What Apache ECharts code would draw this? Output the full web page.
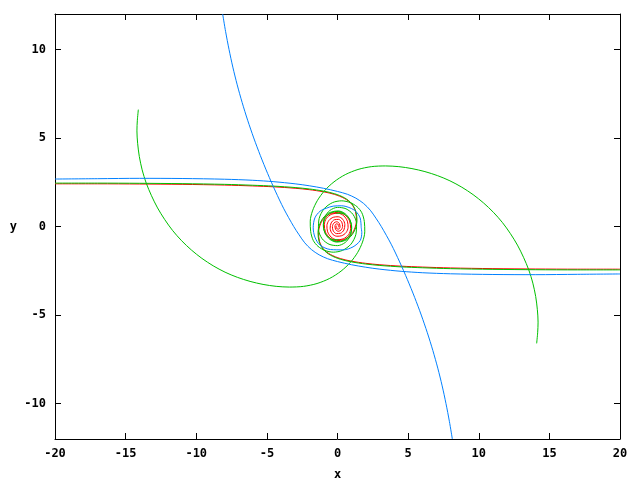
<!DOCTYPE html>
<html>
<head>
<meta charset="utf-8">
<script src="https://cdn.jsdelivr.net/npm/echarts@6/dist/echarts.min.js"></script>
<style>html,body{margin:0;padding:0;background:#fff}#c{width:640px;height:480px}</style>
</head>
<body>
<div id="c"></div>
<script>
var xTicks = [-20, -15, -10, -5, 0, 5, 10, 15, 20];
var yTicks = [-10, -5, 0, 5, 10];

var redLeft = [[-20,2.41],[-17,2.41],[-14,2.4],[-11,2.38],[-8,2.34],[-6,2.29],[-4.5,2.24],[-3,2.16],[-2,2.08],[-1,1.96],[-0.2,1.81],[0.5,1.58],[1.0,1.27],[1.28,0.83],[1.34,0.33],[1.2,-0.15],[0.9,-0.52],[0.45,-0.74],[-0.05,-0.8],[-0.52,-0.66],[-0.85,-0.32],[-0.93,0.1],[-0.78,0.47],[-0.4,0.7],[0.05,0.75],[0.45,0.6],[0.7,0.3],[0.75,-0.05],[0.6,-0.35],[0.3,-0.52],[-0.05,-0.55],[-0.38,-0.4],[-0.52,-0.1],[-0.45,0.2],[-0.22,0.38],[0.08,0.4],[0.3,0.25],[0.36,0],[0.25,-0.2],[0.05,-0.27],[-0.13,-0.17],[-0.18,0.03],[-0.08,0.15],[0.05,0.12],[0.1,0.02],[0.05,-0.05]];
var redRight = [[20,-2.41],[17,-2.41],[14,-2.4],[11,-2.38],[8,-2.34],[6,-2.29],[4.5,-2.24],[3,-2.16],[2,-2.08],[1,-1.96],[0.2,-1.81],[-0.5,-1.58],[-1.0,-1.27],[-1.28,-0.83],[-1.34,-0.33],[-1.2,0.15],[-0.9,0.52],[-0.45,0.74],[0.05,0.8],[0.52,0.66],[0.85,0.32],[0.93,-0.1],[0.78,-0.47],[0.4,-0.7],[-0.05,-0.75],[-0.45,-0.6],[-0.7,-0.3],[-0.75,0.05],[-0.6,0.35],[-0.3,0.52],[0.05,0.55],[0.38,0.4],[0.52,0.1],[0.45,-0.2],[0.22,-0.38],[-0.08,-0.4],[-0.3,-0.25],[-0.36,0],[-0.25,0.2],[-0.05,0.27],[0.13,0.17],[0.18,-0.03],[0.08,-0.15],[-0.05,-0.12],[-0.1,-0.02],[-0.05,0.05]];

var greenTailLeft = [[-20,2.45],[-17,2.45],[-14,2.44],[-11,2.42],[-8,2.38],[-6,2.33],[-4.5,2.28],[-3,2.2],[-2,2.12],[-1,2.0],[-0.2,1.85],[0.5,1.62],[1.0,1.3],[1.3,0.85],[1.38,0.35],[1.25,-0.15],[0.95,-0.55],[0.5,-0.8],[-0.05,-0.88],[-0.55,-0.72],[-0.9,-0.35],[-1.0,0.1],[-0.85,0.5],[-0.45,0.78],[0.05,0.85],[0.5,0.72]];
var greenTailRight = [[20,-2.45],[17,-2.45],[14,-2.44],[11,-2.42],[8,-2.38],[6,-2.33],[4.5,-2.28],[3,-2.2],[2,-2.12],[1,-2.0],[0.2,-1.85],[-0.5,-1.62],[-1.0,-1.3],[-1.3,-0.85],[-1.38,-0.35],[-1.25,0.15],[-0.95,0.55],[-0.5,0.8],[0.05,0.88],[0.55,0.72],[0.9,0.35],[1.0,-0.1],[0.85,-0.5],[0.45,-0.78],[-0.05,-0.85],[-0.5,-0.72]];

var greenArmRight = [[14.1,-6.6],[14.17,-6.0],[14.2,-5.4],[14.15,-4.7],[14.03,-3.95],[13.83,-3.2],[13.54,-2.45],[13.17,-1.74],[12.74,-1.05],[12.24,-0.4],[11.67,0.23],[11.04,0.8],[10.34,1.33],[9.6,1.8],[8.8,2.22],[7.96,2.58],[7.09,2.87],[6.19,3.1],[5.27,3.27],[4.34,3.38],[3.4,3.42],[2.4,3.38],[1.45,3.22],[0.55,2.93],[-0.25,2.52],[-0.92,2.02],[-1.43,1.46],[-1.77,0.88],[-1.93,0.3],[-1.9,-0.28],[-1.72,-0.78],[-1.38,-1.12],[-0.9,-1.35],[-0.3,-1.45],[0.35,-1.35],[0.95,-1.0],[1.3,-0.45],[1.35,0.15],[1.1,0.68],[0.6,1.0],[0.0,1.08],[-0.55,0.9],[-0.92,0.5],[-1.0,0.0],[-0.82,-0.45],[-0.4,-0.72],[0.1,-0.75]];
var greenArmLeft = [[-14.1,6.6],[-14.17,6.0],[-14.2,5.4],[-14.15,4.7],[-14.03,3.95],[-13.83,3.2],[-13.54,2.45],[-13.17,1.74],[-12.74,1.05],[-12.24,0.4],[-11.67,-0.23],[-11.04,-0.8],[-10.34,-1.33],[-9.6,-1.8],[-8.8,-2.22],[-7.96,-2.58],[-7.09,-2.87],[-6.19,-3.1],[-5.27,-3.27],[-4.34,-3.38],[-3.4,-3.42],[-2.4,-3.38],[-1.45,-3.22],[-0.55,-2.93],[0.25,-2.52],[0.92,-2.02],[1.43,-1.46],[1.77,-0.88],[1.93,-0.3],[1.9,0.28],[1.72,0.78],[1.38,1.12],[0.9,1.35],[0.3,1.45],[-0.35,1.35],[-0.95,1.0],[-1.3,0.45],[-1.35,-0.15],[-1.1,-0.68],[-0.6,-1.0],[0.0,-1.08],[0.55,-0.9],[0.92,-0.5],[1.0,0.0],[0.82,0.45],[0.4,0.72],[-0.1,0.75]];

var blueLeft = [[-20,2.68],[-17,2.7],[-14,2.72],[-11,2.71],[-8,2.67],[-6,2.61],[-4.5,2.53],[-3,2.41],[-2,2.3],[-1,2.16],[0,1.98],[0.7,1.82],[1.3,1.6],[1.85,1.3],[2.32,0.92],[2.72,0.47],[3.1,0],[3.8,-1],[4.4,-2],[4.95,-3],[5.46,-4],[5.93,-5],[6.36,-6],[6.75,-7],[7.1,-8],[7.41,-9],[7.68,-10],[7.92,-11],[8.13,-12]];
var blueRight = [[20,-2.68],[17,-2.7],[14,-2.72],[11,-2.71],[8,-2.67],[6,-2.61],[4.5,-2.53],[3,-2.41],[2,-2.3],[1,-2.16],[0,-1.98],[-0.7,-1.82],[-1.3,-1.6],[-1.85,-1.3],[-2.32,-0.92],[-2.72,-0.47],[-3.1,0],[-3.8,1],[-4.4,2],[-4.95,3],[-5.46,4],[-5.93,5],[-6.36,6],[-6.75,7],[-7.1,8],[-7.41,9],[-7.68,10],[-7.92,11],[-8.13,12]];
var blueLoop = [[1.68,-0.07],[1.6,0.49],[1.3,0.85],[0.89,1.05],[0.3,1.17],[-0.3,1.15],[-0.8,1.03],[-1.24,0.86],[-1.6,0.49],[-1.72,-0.07],[-1.6,-0.6],[-1.24,-1.05],[-0.5,-1.3],[0.4,-1.32],[1.1,-1.15],[1.6,-0.8],[1.72,-0.35],[1.68,-0.07]];

var RED = '#ff0000', GREEN = '#00c000', BLUE = '#0080ff';
var FONT = 'DejaVu Sans Mono';

function line(data, color) {
  return {
    type: 'line', data: data, showSymbol: false, symbol: 'none', smooth: 0.3,
    lineStyle: { color: color, width: 1 }, itemStyle: { color: color },
    silent: true, animation: false, clip: true, xAxisIndex: 0, yAxisIndex: 0
  };
}

var axisLine = { show: true, onZero: false, lineStyle: { color: '#000', width: 1 } };
var tick = { show: true, inside: true, length: 6, lineStyle: { color: '#000' } };
var labelStyle = { color: '#000', fontFamily: FONT, fontSize: 12, fontWeight: 'bold' };

var chart = echarts.init(document.getElementById('c'), null, { renderer: 'canvas' });
chart.setOption({
  animation: false,
  backgroundColor: '#fff',
  grid: { left: 55, right: 20, top: 14, bottom: 41, containLabel: false, outerBoundsMode: 'none' },
  xAxis: [
    { type: 'value', min: -20, max: 20, interval: 5, position: 'bottom',
      name: 'x', nameLocation: 'middle', nameGap: 30,
      nameTextStyle: labelStyle,
      axisLine: axisLine, axisTick: Object.assign({}, tick, { customValues: xTicks }),
      axisLabel: Object.assign({ margin: 9, customValues: xTicks }, labelStyle),
      splitLine: { show: false } },
    { type: 'value', min: -20, max: 20, interval: 5, position: 'top',
      axisLine: axisLine, axisTick: Object.assign({}, tick, { customValues: xTicks }),
      axisLabel: { show: false }, splitLine: { show: false } }
  ],
  yAxis: [
    { type: 'value', min: -12, max: 12, position: 'left',
      name: 'y', nameLocation: 'middle', nameGap: 38, nameRotate: 0,
      nameTextStyle: labelStyle,
      axisLine: axisLine, axisTick: Object.assign({}, tick, { customValues: yTicks }),
      axisLabel: Object.assign({ margin: 9, customValues: yTicks }, labelStyle),
      splitLine: { show: false } },
    { type: 'value', min: -12, max: 12, position: 'right',
      axisLine: axisLine, axisTick: Object.assign({}, tick, { customValues: yTicks }),
      axisLabel: { show: false }, splitLine: { show: false } }
  ],
  series: [
    line(redLeft, RED), line(redRight, RED),
    line(greenTailLeft, GREEN), line(greenTailRight, GREEN),
    line(greenArmLeft, GREEN), line(greenArmRight, GREEN),
    line(blueLeft, BLUE), line(blueRight, BLUE), line(blueLoop, BLUE)
  ]
});
</script>
</body>
</html>
